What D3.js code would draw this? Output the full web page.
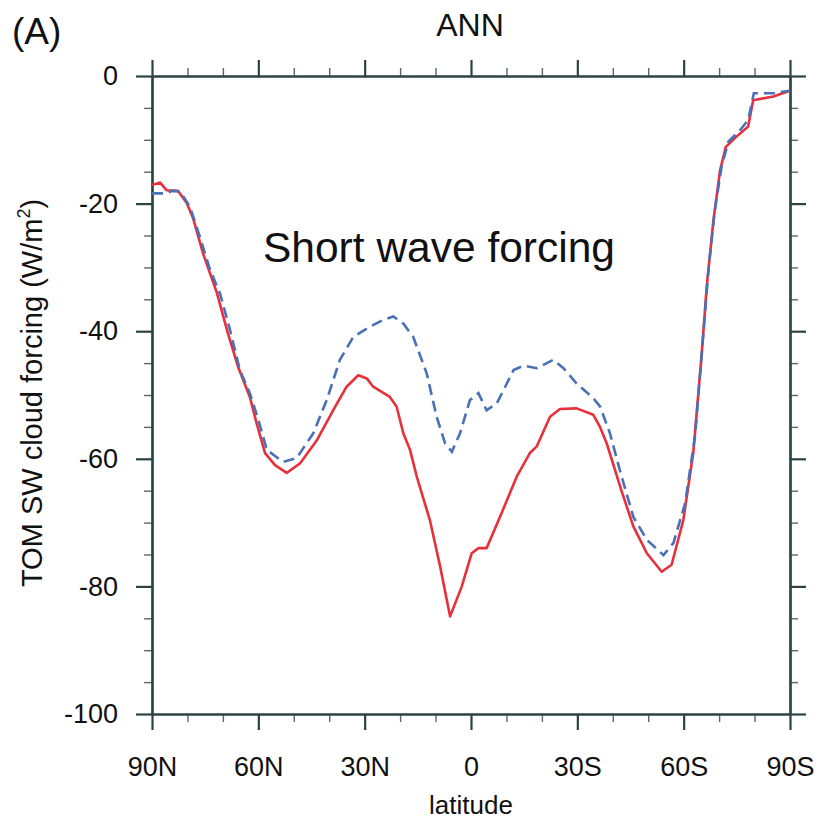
<!DOCTYPE html>
<html>
<head>
<meta charset="utf-8">
<script src="https://cdn.jsdelivr.net/npm/d3@7"></script>
<style>
  body { margin: 0; background: #fff; }
  svg text { font-family: "Liberation Sans", Arial, sans-serif; fill: #111; }
</style>
</head>
<body>
<svg id="chart"></svg>
<script>
// zonal mean TOM SW cloud forcing
// red solid line
var redLat = [90, 87.7, 85.9, 82.7, 80.2, 78.4, 75.6, 71.7, 68.6, 65.7, 62.4, 60.5, 58.1, 55.3, 52.0,
  48.2, 43.5, 38.9, 35.1, 31.8, 29.4, 27.6, 22.9, 21.0, 19.1, 17.2, 15.3, 11.6, 8.7, 5.9, 2.6, -0.2,
  -2.1, -4.4, -8.2, -12.9, -16.6, -18.5, -22.3, -25.1, -29.8, -34.5, -36.4, -38.3, -42.4, -45.8,
  -49.6, -53.8, -56.6, -59.9, -62.7, -65.1, -66.5, -68.4, -70.3, -71.9, -74.9, -78.2, -79.6, -85.3, -90];
var redVal = [-17.1, -16.7, -17.9, -18.0, -19.9, -22.3, -27.8, -34.0, -40.3, -45.6, -50.3, -54.4, -59.1, -61.0, -62.2,
  -60.7, -57.1, -52.4, -48.7, -46.9, -47.4, -48.7, -50.3, -51.8, -56.0, -58.6, -62.8, -69.6, -76.9, -84.7, -80.0, -74.8,
  -74.0, -74.0, -69.1, -62.8, -59.1, -58.1, -53.4, -52.2, -52.1, -53.1, -55.0, -57.6, -64.9, -70.6,
  -74.8, -77.7, -76.6, -69.6, -59.1, -43.5, -33.0, -22.6, -14.7, -11.1, -9.5, -7.9, -3.8, -3.2, -2.3];

// blue dashed line
var blueLat = [90, 85.9, 84.4, 82.1, 79.3, 76.5, 73.6, 70.8, 68.0, 65.2, 62.4, 60.0, 57.6, 53.0, 49.2,
  44.5, 40.7, 37.0, 33.2, 28.5, 24.7, 21.9, 19.1, 16.3, 12.5, 9.7, 7.3, 5.4, 3.1, 0.3, -2.1, -4.4,
  -7.3, -12.0, -14.8, -18.5, -23.2, -26.1, -29.8, -34.5, -36.4, -39.2, -42.0, -45.8, -49.6, -54.3,
  -57.1, -60.4, -63.2, -65.1, -67.0, -68.8, -70.7, -72.6, -75.9, -78.2, -79.8, -85.3, -90];
var blueVal = [-18.4, -18.4, -18.0, -18.1, -20.5, -25.2, -30.4, -34.1, -39.8, -46.1, -49.7, -53.9, -58.6, -60.5, -59.9,
  -56.0, -50.8, -44.5, -40.9, -39.3, -38.2, -37.7, -38.8, -40.9, -46.6, -53.4, -57.6, -58.9, -56.0, -50.8, -49.7, -52.4,
  -51.3, -46.1, -45.4, -45.8, -44.5, -45.8, -48.2, -50.5, -51.8, -56.0, -61.8, -69.1, -72.7, -75.1,
  -73.2, -67.0, -56.5, -43.5, -30.4, -21.0, -14.2, -10.3, -8.5, -6.9, -2.7, -2.7, -2.3];

var xMajor = [90, 60, 30, 0, -30, -60, -90];
var xMinor = [80, 70, 50, 40, 20, 10, -10, -20, -40, -50, -70, -80];
var yMajor = [0, -20, -40, -60, -80, -100];
var yMinor = [-5, -10, -15, -25, -30, -35, -45, -50, -55, -65, -70, -75, -85, -90, -95];

var W = 818, H = 823;
var plotL = 152, plotR = 790, plotT = 76, plotB = 714;
var axisColor = "#2c4343";

var svg = d3.select("#chart").attr("width", W).attr("height", H);

var x = d3.scaleLinear().domain([90, -90]).range([plotL, plotR]);
var y = d3.scaleLinear().domain([0, -100]).range([plotT, plotB]);

function latLabel(d) {
  if (d > 0) return d + "N";
  if (d < 0) return (-d) + "S";
  return "0";
}

// plain hyphen minus, like the original
function valLabel(d) {
  return String(d);
}

// draws one axis side: major ticks with (optional) labels + minor ticks
function drawAxis(axisFn, scale, tr, labels, fmt, pad) {
  var gMin = svg.append("g").attr("transform", tr)
    .call(axisFn(scale).tickValues(labels.minor).tickSize(8).tickSizeOuter(0).tickFormat(""));
  var gMaj = svg.append("g").attr("transform", tr)
    .call(axisFn(scale).tickValues(labels.major).tickSize(16).tickSizeOuter(0)
      .tickPadding(pad).tickFormat(fmt));
  [gMin, gMaj].forEach(function (g) {
    g.select(".domain").attr("stroke", axisColor).attr("stroke-width", 2.2);
    g.selectAll(".tick line").attr("stroke", axisColor);
  });
  gMin.selectAll(".tick line").attr("stroke-width", 1.4).attr("opacity", 0.8);
  gMaj.selectAll(".tick line").attr("stroke-width", 2.2);
  gMaj.selectAll("text").attr("font-size", 27).attr("fill", "#111")
    .attr("font-family", "Liberation Sans, Arial, sans-serif");
  return gMaj;
}

var xt = { major: xMajor, minor: xMinor };
var yt = { major: yMajor, minor: yMinor };

drawAxis(d3.axisBottom, x, "translate(0," + plotB + ")", xt, latLabel, 27);
drawAxis(d3.axisTop, x, "translate(0," + plotT + ")", xt, function () { return ""; }, 0);
drawAxis(d3.axisLeft, y, "translate(" + plotL + ",0)", yt, valLabel, 18);
drawAxis(d3.axisRight, y, "translate(" + plotR + ",0)", yt, function () { return ""; }, 0);

// lines
var line = d3.line()
  .x(function (d) { return x(d[0]); })
  .y(function (d) { return y(d[1]); })
  .curve(d3.curveLinear);

svg.append("path")
  .datum(d3.zip(redLat, redVal))
  .attr("d", line)
  .attr("fill", "none")
  .attr("stroke", "#e8303c")
  .attr("stroke-width", 2.6)
  .attr("stroke-linejoin", "round");

svg.append("path")
  .datum(d3.zip(blueLat, blueVal))
  .attr("d", line)
  .attr("fill", "none")
  .attr("stroke", "#4a70b5")
  .attr("stroke-width", 2.6)
  .attr("stroke-dasharray", "11,6");

// texts
svg.append("text").attr("x", 12).attr("y", 44).attr("font-size", 37).text("(A)");
svg.append("text").attr("x", 470).attr("y", 36).attr("text-anchor", "middle")
  .attr("font-size", 32).text("ANN");
svg.append("text").attr("x", 263).attr("y", 262).attr("font-size", 42.5).text("Short wave forcing");

var yl = svg.append("text")
  .attr("transform", "translate(42,393) rotate(-90)")
  .attr("text-anchor", "middle")
  .attr("font-size", 29);
yl.append("tspan").text("TOM SW cloud forcing (W/m");
yl.append("tspan").attr("font-size", 18).attr("dy", -12).text("2");
yl.append("tspan").attr("dy", 12).text(")");

svg.append("text").attr("x", 471).attr("y", 814).attr("text-anchor", "middle")
  .attr("font-size", 26).text("latitude");
</script>
</body>
</html>
